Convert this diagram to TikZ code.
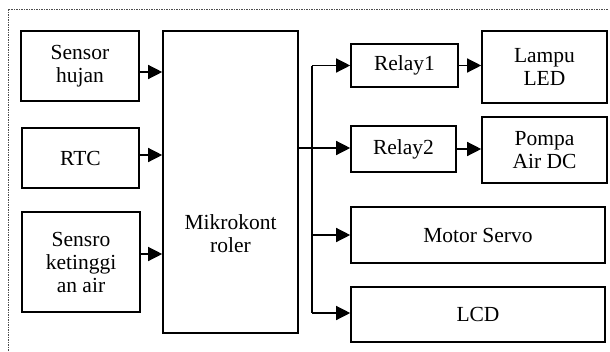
\documentclass[tikz,border=0pt]{standalone}
\usepackage{fontspec}
\setmainfont{Liberation Serif}
\usetikzlibrary{arrows.meta}
\begin{document}
\begin{tikzpicture}[x=1pt,y=-1pt,
  blk/.style={draw=black,line width=1.6pt,rectangle,align=center,inner sep=0pt,
    font=\fontsize{21.5}{23}\selectfont},
  arr/.style={line width=1.3pt,-{Triangle[length=14pt,width=14pt]}},
  wire/.style={line width=1.3pt},
  border/.style={draw=black!70,line width=0.8pt,dash pattern=on 2.2pt off 1pt on 0.8pt off 1pt}]
\useasboundingbox (0,0) rectangle (610,351);
\draw[border] (8,351) -- (8,9) -- (608,9);
\node[blk,minimum width=118pt,minimum height=70pt] (sh) at (80,66) {Sensor\\hujan};
\node[blk,minimum width=117pt,minimum height=60pt] (rtc) at (80.5,158) {RTC};
\node[blk,minimum width=118pt,minimum height=100pt] (skt) at (81,262) {Sensro\\ketinggi\\an air};
\node[blk,minimum width=135pt,minimum height=302pt] (mk) at (230.5,182) {};
\node[align=center,inner sep=0pt,font=\fontsize{21.5}{23}\selectfont] (mkt) at (230.5,234) {Mikrokont\\roler};
\node[blk,minimum width=107pt,minimum height=43pt] (r1) at (404.5,65.5) {Relay1};
\node[blk,minimum width=125pt,minimum height=72pt] (led) at (544.5,67) {Lampu\\LED};
\node[blk,minimum width=105pt,minimum height=46pt] (r2) at (403.5,149) {Relay2};
\node[blk,minimum width=125pt,minimum height=66pt] (pom) at (544.5,150) {Pompa\\Air DC};
\node[blk,minimum width=254pt,minimum height=56pt] (ms) at (478,235) {Motor Servo};
\node[blk,minimum width=254pt,minimum height=55pt] (lcd) at (478,314.5) {LCD};
\coordinate (bus) at (312,148);
\coordinate (bustop) at (312,65.5);
\coordinate (busbot) at (312,313);
% inputs
\draw[arr] ([yshift=-6pt]sh.east) -- ([yshift=-6pt]sh.east -| mk.west);
\draw[arr] ([yshift=3pt]rtc.east) -- ([yshift=3pt]rtc.east -| mk.west);
\draw[arr] ([yshift=8pt]skt.east) -- ([yshift=8pt]skt.east -| mk.west);
% outputs
\draw[wire] (mk.east |- bus) -- (bus);
\draw[wire] (bustop) -- (busbot);
\draw[arr] (bustop) -- (bustop -| r1.west);
\draw[arr] (bus) -- (bus -| r2.west);
\draw[arr] (bus |- ms.west) -- (ms.west);
\draw[arr] (busbot) -- (busbot -| lcd.west);
\draw[arr] (r1.east) -- (r1.east -| led.west);
\draw[arr] (r2.east) -- (r2.east -| pom.west);
\end{tikzpicture}
\end{document}
